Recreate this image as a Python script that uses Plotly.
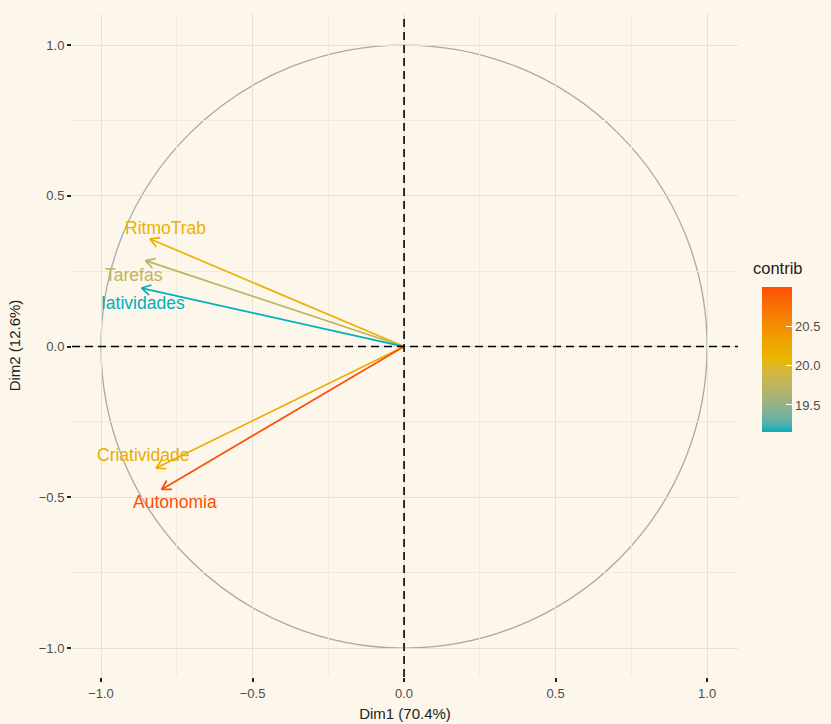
import plotly.graph_objects as go
import numpy as np

# ---- data ----
variables = ["RitmoTrab", "Tarefas", "Iatividades", "Criatividade", "Autonomia"]
dim1 = [-0.838, -0.853, -0.866, -0.818, -0.800]
dim2 = [0.357, 0.285, 0.194, -0.403, -0.474]
contrib = [20.15, 19.75, 19.15, 20.20, 21.00]
colorbar_ticks = [19.5, 20.0, 20.5]
axis_ticks = [-1.0, -0.5, 0.0, 0.5, 1.0]
xlabel = "Dim1 (70.4%)"
ylabel = "Dim2 (12.6%)"
legend_title = "contrib"

# label offsets in pixels (xshift, yshift)
label_shift = [(15, 11), (-12, -14), (1, -15), (-13, 13), (13, -13)]

base_cols = [(0x00, 0xAF, 0xBB), (0xE7, 0xB8, 0x00), (0xFC, 0x4E, 0x07)]
cmin, cmax = min(contrib), max(contrib)


# --- Lab interpolation (like ggplot's gradientn) ---
def srgb2lin(c):
    c = c / 255.0
    return np.where(c <= 0.04045, c / 12.92, ((c + 0.055) / 1.055) ** 2.4)


def lin2srgb(c):
    c = np.clip(c, 0, 1)
    return np.where(c <= 0.0031308, 12.92 * c, 1.055 * c ** (1 / 2.4) - 0.055) * 255


M = np.array([[0.4124, 0.3576, 0.1805], [0.2126, 0.7152, 0.0722], [0.0193, 0.1192, 0.9505]])
Minv = np.linalg.inv(M)
wp = np.array([0.95047, 1.0, 1.08883])


def f(t):
    return np.where(t > (6 / 29) ** 3, np.cbrt(t), t / (3 * (6 / 29) ** 2) + 4 / 29)


def finv(t):
    return np.where(t > 6 / 29, t ** 3, 3 * (6 / 29) ** 2 * (t - 4 / 29))


def rgb2lab(rgb):
    xyz = M @ srgb2lin(np.array(rgb, float)) / wp
    fx, fy, fz = f(xyz)
    return np.array([116 * fy - 16, 500 * (fx - fy), 200 * (fy - fz)])


def lab2rgb(lab):
    L, a, b = lab
    fy = (L + 16) / 116
    xyz = np.array([finv(fy + a / 500), finv(fy), finv(fy - b / 200)]) * wp
    return lin2srgb(Minv @ xyz)


labs = [rgb2lab(c) for c in base_cols]


def col_t(t):
    t = min(max(t, 0), 1)
    if t <= 0.5:
        lab = labs[0] + (labs[1] - labs[0]) * (t / 0.5)
    else:
        lab = labs[1] + (labs[2] - labs[1]) * ((t - 0.5) / 0.5)
    r, g, b = lab2rgb(lab)
    return "rgb(%d,%d,%d)" % (round(r), round(g), round(b))


def col(v):
    return col_t((v - cmin) / (cmax - cmin))


colorscale = [[s, col_t(s)] for s in np.linspace(0, 1, 21)]

bg = "#FDF6EA"
font = "Liberation Sans, Arial, sans-serif"

fig = go.Figure()

fig.add_shape(type="circle", xref="x", yref="y", x0=-1, y0=-1, x1=1, y1=1,
              line=dict(color="#A9A9A9", width=1.3), layer="below")

fig.add_hline(y=0, line=dict(color="black", width=1.6, dash="8px,5px"))
fig.add_vline(x=0, line=dict(color="black", width=1.6, dash="8px,5px"))

head_len = 0.034
head_ang = np.deg2rad(30)
for name, x, y, c, (sx, sy) in zip(variables, dim1, dim2, contrib, label_shift):
    color = col(c)
    ang = np.arctan2(y, x)
    hx1 = x - head_len * np.cos(ang - head_ang)
    hy1 = y - head_len * np.sin(ang - head_ang)
    hx2 = x - head_len * np.cos(ang + head_ang)
    hy2 = y - head_len * np.sin(ang + head_ang)
    fig.add_trace(go.Scatter(
        x=[0, x, None, hx1, x, hx2], y=[0, y, None, hy1, y, hy2],
        mode="lines", line=dict(color=color, width=1.7),
        showlegend=False, hoverinfo="skip"))
    fig.add_annotation(x=x, y=y, text=name, showarrow=False,
                       xshift=sx, yshift=sy,
                       font=dict(color=color, size=17.5, family=font))

fig.add_trace(go.Scatter(
    x=[None], y=[None], mode="markers",
    marker=dict(color=[cmin, cmax], cmin=cmin, cmax=cmax, colorscale=colorscale,
                showscale=True,
                colorbar=dict(
                    tickvals=colorbar_ticks, ticktext=["%.1f" % v for v in colorbar_ticks],
                    ticks="inside", ticklen=6, tickcolor="white", tickwidth=1,
                    tickfont=dict(size=13, color="#4D4D4D", family=font),
                    thickness=30, thicknessmode="pixels",
                    len=145, lenmode="pixels",
                    x=752 / 831, xanchor="left", xref="container",
                    y=1 - 393 / 724, yanchor="middle", yref="container",
                    xpad=10, ypad=0,
                    outlinewidth=0, bgcolor="rgba(0,0,0,0)")),
    showlegend=False, hoverinfo="skip"))

# colour legend title
fig.add_annotation(xref="paper", yref="paper", x=(751 - 72) / 666, y=(677 - 268) / 663,
                   xanchor="left", yanchor="middle", showarrow=False, text=legend_title,
                   font=dict(size=16.5, color="#222222", family=font))

grid_major = "#E6E0D5"
grid_minor = "#F0EADF"
axis_common = dict(
    tickvals=axis_ticks, ticktext=["%.1f" % v if v >= 0 else "\u2212%.1f" % -v for v in axis_ticks],
    showgrid=True, gridcolor=grid_major, gridwidth=1.3,
    minor=dict(dtick=0.25, tick0=0, showgrid=True, gridcolor=grid_minor, gridwidth=1),
    zeroline=False, showline=False, automargin=False,
    ticks="outside", ticklen=4, tickwidth=2, tickcolor="#222222",
    tickfont=dict(size=13, color="#4D4D4D", family=font),
)

fig.update_layout(
    width=831, height=724,
    margin=dict(l=72, r=93, t=14, b=47, autoexpand=False),
    paper_bgcolor=bg, plot_bgcolor=bg,
    font=dict(family=font),
    xaxis=dict(range=[-1.0957, 1.102], title=dict(text=xlabel, standoff=8,
               font=dict(size=15, color="#222222", family=font)), **axis_common),
    yaxis=dict(range=[-1.096, 1.103], title=dict(text=ylabel, standoff=14,
               font=dict(size=15, color="#222222", family=font)), **axis_common),
    showlegend=False,
)

fig.write_html("out.html", config={"displayModeBar": False},
               post_script="document.body.style.margin='0px';document.body.style.overflow='hidden';")
